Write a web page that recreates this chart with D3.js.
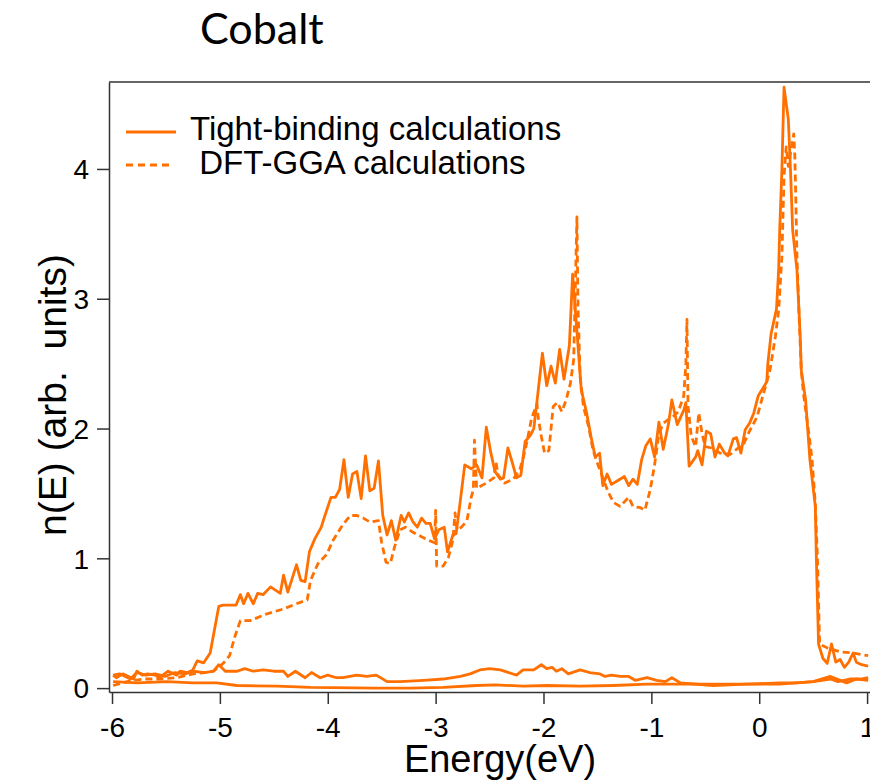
<!DOCTYPE html>
<html>
<head>
<meta charset="utf-8">
<script src="https://cdn.jsdelivr.net/npm/d3@7"></script>
<style>
  body { margin: 0; background: #fff; }
  svg { display: block; }
</style>
</head>
<body>
<svg id="chart" width="870" height="780"></svg>
<script>
// DATA
// Energy (eV), n(E)
var tbDos = [[-5.99,0.10],[-5.96,0.08],[-5.90,0.11],[-5.80,0.07],[-5.77,0.13],[-5.72,0.10],[-5.67,0.11],[-5.60,0.10],[-5.56,0.08],[-5.48,0.13],[-5.40,0.10],[-5.37,0.13],[-5.30,0.12],[-5.25,0.14],[-5.21,0.21],[-5.15,0.195],[-5.09,0.27],[-5.01,0.63],[-4.97,0.64],[-4.85,0.64],[-4.81,0.72],[-4.78,0.65],[-4.74,0.73],[-4.69,0.65],[-4.65,0.73],[-4.60,0.72],[-4.53,0.78],[-4.44,0.73],[-4.41,0.87],[-4.37,0.74],[-4.29,0.95],[-4.25,0.83],[-4.21,0.82],[-4.17,1.05],[-4.12,1.15],[-4.06,1.24],[-4.03,1.32],[-3.97,1.47],[-3.93,1.47],[-3.89,1.53],[-3.85,1.76],[-3.81,1.47],[-3.77,1.65],[-3.73,1.67],[-3.69,1.46],[-3.65,1.79],[-3.61,1.52],[-3.57,1.54],[-3.53,1.75],[-3.49,1.33],[-3.45,1.18],[-3.41,1.29],[-3.37,1.14],[-3.32,1.33],[-3.29,1.28],[-3.25,1.35],[-3.21,1.28],[-3.17,1.24],[-3.13,1.31],[-3.09,1.27],[-3.05,1.27],[-3.01,1.15],[-2.97,1.22],[-2.92,1.24],[-2.89,1.05],[-2.84,1.18],[-2.81,1.19],[-2.77,1.45],[-2.73,1.72],[-2.67,1.69],[-2.62,1.72],[-2.57,1.62],[-2.53,2.01],[-2.49,1.82],[-2.45,1.67],[-2.40,1.61],[-2.37,1.62],[-2.33,1.85],[-2.29,1.74],[-2.25,1.62],[-2.21,1.64],[-2.17,1.90],[-2.12,1.95],[-2.09,2.00],[-2.06,2.21],[-2.01,2.58],[-1.97,2.33],[-1.93,2.48],[-1.89,2.35],[-1.85,2.61],[-1.81,2.38],[-1.76,2.64],[-1.73,3.19],[-1.69,2.75],[-1.65,2.30],[-1.60,2.12],[-1.56,1.94],[-1.52,1.78],[-1.48,1.81],[-1.45,1.56],[-1.41,1.65],[-1.37,1.57],[-1.31,1.60],[-1.25,1.63],[-1.21,1.56],[-1.17,1.61],[-1.13,1.57],[-1.09,1.76],[-1.05,1.87],[-1.01,1.92],[-0.97,1.78],[-0.93,2.05],[-0.89,1.84],[-0.84,2.04],[-0.81,2.22],[-0.76,2.03],[-0.70,2.14],[-0.68,2.20],[-0.65,1.71],[-0.59,1.78],[-0.57,1.83],[-0.53,1.72],[-0.49,1.98],[-0.45,1.96],[-0.41,1.78],[-0.37,1.88],[-0.32,1.81],[-0.29,1.79],[-0.24,1.92],[-0.21,1.93],[-0.17,1.81],[-0.13,1.99],[-0.09,2.04],[-0.05,2.12],[-0.01,2.25],[0.07,2.36],[0.08,2.50],[0.11,2.73],[0.16,2.92],[0.18,3.22],[0.19,3.53],[0.21,3.99],[0.23,4.63],[0.27,4.38],[0.29,3.99],[0.31,3.53],[0.35,3.22],[0.38,2.71],[0.39,2.45],[0.43,2.22],[0.47,1.76],[0.52,1.40],[0.53,0.99],[0.55,0.34],[0.59,0.23],[0.63,0.19],[0.67,0.34],[0.71,0.20],[0.75,0.22],[0.79,0.16],[0.83,0.20],[0.87,0.27],[0.90,0.20],[0.95,0.18],[1.01,0.17]];

var dftDos = [[-5.99,0.02],[-5.86,0.05],[-5.71,0.07],[-5.56,0.07],[-5.40,0.08],[-5.25,0.11],[-5.14,0.12],[-5.06,0.13],[-4.97,0.19],[-4.91,0.25],[-4.86,0.40],[-4.81,0.52],[-4.72,0.52],[-4.57,0.57],[-4.41,0.61],[-4.29,0.65],[-4.19,0.68],[-4.16,0.83],[-4.09,0.96],[-4.01,1.03],[-3.95,1.14],[-3.86,1.26],[-3.79,1.33],[-3.73,1.33],[-3.67,1.31],[-3.61,1.28],[-3.53,1.29],[-3.50,1.12],[-3.46,0.97],[-3.42,0.96],[-3.38,1.09],[-3.33,1.22],[-3.28,1.24],[-3.21,1.20],[-3.14,1.17],[-3.07,1.14],[-3.01,1.12],[-3.00,1.37],[-2.99,0.94],[-2.93,0.94],[-2.88,1.01],[-2.84,1.14],[-2.82,1.35],[-2.80,1.22],[-2.76,1.24],[-2.71,1.29],[-2.67,1.47],[-2.65,1.53],[-2.64,1.91],[-2.62,1.54],[-2.53,1.58],[-2.46,1.62],[-2.44,1.74],[-2.42,1.64],[-2.36,1.58],[-2.28,1.61],[-2.22,1.68],[-2.17,1.83],[-2.11,2.08],[-2.06,2.19],[-2.05,2.09],[-2.02,1.94],[-1.99,1.81],[-1.95,1.83],[-1.91,2.17],[-1.87,2.20],[-1.83,2.13],[-1.79,2.22],[-1.75,2.35],[-1.72,2.53],[-1.69,3.63],[-1.68,2.94],[-1.66,2.40],[-1.63,2.17],[-1.58,2.01],[-1.54,1.83],[-1.49,1.71],[-1.45,1.62],[-1.40,1.51],[-1.35,1.43],[-1.29,1.40],[-1.21,1.47],[-1.17,1.40],[-1.10,1.39],[-1.06,1.37],[-1.01,1.53],[-0.97,1.72],[-0.93,1.96],[-0.89,2.04],[-0.84,2.07],[-0.80,2.09],[-0.75,2.13],[-0.70,2.25],[-0.68,2.50],[-0.67,2.84],[-0.66,2.17],[-0.63,1.94],[-0.59,1.86],[-0.56,2.12],[-0.53,1.96],[-0.50,1.86],[-0.44,1.85],[-0.36,1.81],[-0.27,1.80],[-0.18,1.86],[-0.15,1.87],[-0.09,1.98],[-0.02,2.09],[0.04,2.27],[0.10,2.45],[0.15,2.71],[0.18,2.91],[0.21,3.32],[0.23,3.94],[0.25,4.17],[0.27,4.02],[0.29,4.12],[0.32,4.27],[0.33,4.10],[0.34,3.73],[0.35,3.32],[0.37,2.86],[0.39,2.45],[0.41,2.27],[0.46,1.96],[0.49,1.76],[0.52,1.42],[0.54,0.99],[0.56,0.34],[0.63,0.31],[0.75,0.28],[0.87,0.27],[1.01,0.25]];

var lowDosA = [[-5.99,0.10],[-5.93,0.11],[-5.83,0.07],[-5.77,0.12],[-5.69,0.10],[-5.60,0.11],[-5.51,0.09],[-5.42,0.12],[-5.32,0.11],[-5.25,0.13],[-5.14,0.12],[-5.06,0.13],[-5.01,0.18],[-4.95,0.13],[-4.84,0.13],[-4.77,0.15],[-4.69,0.13],[-4.60,0.14],[-4.50,0.13],[-4.41,0.13],[-4.37,0.09],[-4.30,0.13],[-4.21,0.08],[-4.15,0.12],[-4.07,0.08],[-4.00,0.10],[-3.92,0.08],[-3.86,0.08],[-3.73,0.10],[-3.64,0.09],[-3.55,0.10],[-3.45,0.05],[-3.33,0.05],[-3.11,0.06],[-2.93,0.07],[-2.77,0.09],[-2.68,0.11],[-2.59,0.14],[-2.50,0.15],[-2.40,0.14],[-2.25,0.10],[-2.19,0.14],[-2.09,0.14],[-2.02,0.18],[-1.97,0.15],[-1.92,0.16],[-1.88,0.13],[-1.83,0.15],[-1.77,0.11],[-1.66,0.14],[-1.57,0.12],[-1.48,0.11],[-1.43,0.09],[-1.37,0.10],[-1.29,0.09],[-1.21,0.09],[-1.15,0.06],[-1.04,0.08],[-0.95,0.06],[-0.87,0.05],[-0.81,0.08],[-0.73,0.04],[-0.43,0.02],[-0.12,0.03],[0.19,0.04],[0.35,0.04],[0.50,0.05],[0.66,0.07],[0.73,0.05],[0.84,0.07],[0.94,0.07],[1.01,0.08]];

var lowDosB = [[-5.99,0.05],[-5.77,0.04],[-5.49,0.05],[-5.25,0.04],[-5.03,0.04],[-4.84,0.02],[-4.47,0.015],[-4.16,0.005],[-3.55,0.0],[-3.24,0.0],[-2.93,0.005],[-2.62,0.02],[-2.45,0.025],[-2.19,0.015],[-1.97,0.02],[-1.66,0.015],[-1.35,0.02],[-1.04,0.03],[-0.73,0.03],[-0.43,0.03],[-0.12,0.03],[0.19,0.03],[0.50,0.05],[0.66,0.09],[0.81,0.04],[0.90,0.07],[1.01,0.06]];

var xTicks = [-6, -5, -4, -3, -2, -1, 0, 1];
var yTicks = [0, 1, 2, 3, 4];
var legendLabels = ['Tight-binding calculations', ' DFT-GGA calculations'];

//.................................................................................//
// SETUP
var svg = d3.select('#chart');
var orange = '#ff7000';
var axisColor = '#333';
var font = '"Liberation Sans", Arial, sans-serif';

var x = d3.scaleLinear().domain([-6.028, 1.027]).range([109, 870]);
var y = d3.scaleLinear().domain([-0.03, 4.67]).range([692, 82]);

// Title
svg.append('text')
   .attr('x', 200)
   .attr('y', 44)
   .style('font-family', 'Lato, "Open Sans", sans-serif')
   .style('font-size', '43px')
   .style('fill', '#000')
   .text('Cobalt');

//.................................................................................//
// AXES
var xAxis = svg.append('g')
               .attr('transform', 'translate(0,692)')
               .call(d3.axisBottom(x).tickValues(xTicks).tickSize(12).tickSizeOuter(0).tickFormat(d => String(d)));
xAxis.selectAll('text')
     .attr('y', 45)
     .attr('dy', 0)
     .style('font-family', font)
     .style('font-size', '28px')
     .style('fill', '#000');

var yAxis = svg.append('g')
               .attr('transform', 'translate(109,0)')
               .call(d3.axisLeft(y).tickValues(yTicks).tickSize(12).tickSizeOuter(0).tickFormat(d => String(d)));
yAxis.selectAll('text')
     .attr('x', -20)
     .attr('dy', '0.35em')
     .style('font-family', font)
     .style('font-size', '28px')
     .style('fill', '#000');

svg.selectAll('.domain, .tick line')
   .style('stroke', axisColor)
   .style('stroke-width', 1.5);

// Top frame line
svg.append('line')
   .attr('x1', 109).attr('x2', 870)
   .attr('y1', 82).attr('y2', 82)
   .style('stroke', axisColor)
   .style('stroke-width', 1.5);

// Axis labels
svg.append('text')
   .attr('x', 500)
   .attr('y', 772)
   .attr('text-anchor', 'middle')
   .style('font-family', font)
   .style('font-size', '38px')
   .text('Energy(eV)');

svg.append('text')
   .attr('transform', 'translate(66,395) rotate(-90)')
   .attr('text-anchor', 'middle')
   .style('font-family', font)
   .style('font-size', '39px')
   .style('white-space', 'pre')
   .text('n(E) (arb.  units)');

//.................................................................................//
// CURVES
var line = d3.line().x(d => x(d[0])).y(d => y(d[1]));

function drawCurve(data, dashed) {
    svg.append('path')
       .datum(data)
       .attr('d', line)
       .style('fill', 'none')
       .style('stroke', orange)
       .style('stroke-width', 2.8)
       .style('stroke-linejoin', 'round')
       .style('stroke-dasharray', dashed ? '7,4' : null);
}

drawCurve(lowDosB, false);
drawCurve(lowDosA, false);
drawCurve(dftDos, true);
drawCurve(tbDos, false);

//.................................................................................//
// LEGEND
legendLabels.forEach(function(label, i) {
    var ly = i === 0 ? 132 : 165;
    svg.append('line')
       .attr('x1', 126).attr('x2', i === 0 ? 176 : 173)
       .attr('y1', ly).attr('y2', ly)
       .style('stroke', orange)
       .style('stroke-width', 2.8)
       .style('stroke-dasharray', i === 0 ? null : '7,5');
    svg.append('text')
       .attr('x', 190)
       .attr('y', ly + 8 + (i === 0 ? 0 : 1))
       .style('font-family', font)
       .style('font-size', '33px')
       .style('white-space', 'pre')
       .text(label);
});
</script>
</body>
</html>
